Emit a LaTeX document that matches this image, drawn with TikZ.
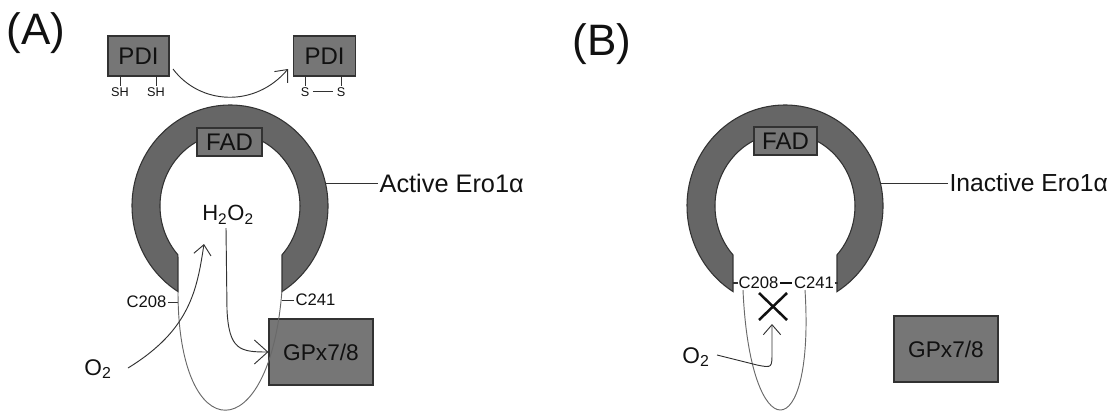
\documentclass[tikz,border=0pt]{standalone}
\usepackage{fontspec}
\setmainfont{Liberation Sans}
\usetikzlibrary{arrows.meta,calc}
\definecolor{ringfill}{RGB}{102,102,102}
\definecolor{boxfill}{RGB}{118,118,118}
\definecolor{edgecol}{RGB}{50,50,50}
\definecolor{loopcol}{RGB}{105,105,105}
\definecolor{txtcol}{RGB}{17,17,17}
\newcommand{\fsz}[1]{\fontsize{#1}{#1}\selectfont}
\tikzset{
  ringshape/.style={draw=edgecol, fill=ringfill, line width=0.8pt},
  graybox/.style={draw=edgecol, fill=boxfill, line width=0.9pt, inner sep=0pt, text=txtcol},
  txt/.style={inner sep=1pt, text=txtcol},
  thinline/.style={draw=edgecol, line width=0.7pt},
  loopline/.style={draw=loopcol, line width=0.7pt},
  arr/.style={draw=edgecol, line width=0.7pt, -{Straight Barb[length=7.5pt,width=13pt,line width=0.7pt]}},
  bigarr/.style={draw=edgecol, line width=0.7pt, -{Straight Barb[length=10pt,width=18pt,line width=0.7pt]}},
}
\begin{document}
\begin{tikzpicture}[x=0.75pt,y=-0.75pt]
\useasboundingbox (0,0) rectangle (1112,414);

% ---------------- Panel A ----------------
\node[txt,font=\fsz{33pt}] (labA) at (36,33) {(A)};

\node[graybox,minimum width=45.75pt,minimum height=30pt,font=\fsz{18pt}] (pdi1) at (138.5,56) {PDI};
\node[graybox,minimum width=47pt,minimum height=30pt,font=\fsz{18pt}] (pdi2) at (324.5,56) {PDI};
\node[txt,font=\fsz{9.5pt}] (sh1) at (120,92) {SH};
\node[txt,font=\fsz{9.5pt}] (sh2) at (156,92) {SH};
\node[txt,font=\fsz{9.5pt}] (s1) at (305,92) {S};
\node[txt,font=\fsz{9.5pt}] (s2) at (341,92) {S};
\draw[thinline] (sh1.north) -- (sh1.north |- pdi1.south);
\draw[thinline] (sh2.north) -- (sh2.north |- pdi1.south);
\draw[thinline] (s1.north) -- (s1.north |- pdi2.south);
\draw[thinline] (s2.north) -- (s2.north |- pdi2.south);
\draw[thinline] ($(s1.east)+(2,-1)$) -- ($(s2.west)+(-2,-1)$);
\coordinate (pdiout) at (173,69);
\coordinate (pdiin) at (288,69);
\draw[arr] (pdiout) .. controls (200,105) and (255,108) .. (pdiin);

% ring A
\draw[ringshape] (178,291.6) arc[start angle=122.05, end angle=417.95, x radius=98, y radius=101]
  -- (282,254.85) arc[start angle=402, end angle=138, x radius=70, y radius=73] -- cycle;
\node[graybox,minimum width=48.75pt,minimum height=21pt,font=\fsz{18pt}] (fadA) at (229.5,142) {FAD};
\coordinate (ringAr) at (325.4,183);
\node[txt,font=\fsz{19pt},anchor=west] (activeA) at (378,183) {Active Ero1α};
\draw[thinline] (ringAr) -- (activeA.west);

\node[txt,font=\fsz{16.5pt}] (h2o2) at (228,215) {H\textsubscript{2}O\textsubscript{2}};

\coordinate (cutAL) at (178,291.6);
\coordinate (cutAR) at (282,290);
\node[txt,font=\fsz{12.5pt},anchor=east] (c208A) at (168,302) {C208};
\node[txt,font=\fsz{12.5pt},anchor=west] (c241A) at (294,300) {C241};
\draw[thinline] (c208A.east) -- (c208A.east -| cutAL);
\draw[thinline] (c241A.west) -- (c241A.west -| cutAR);

\node[graybox,minimum width=78pt,minimum height=49.5pt,font=\fsz{17pt}] (gpxA) at (321,352) {GPx7/8};
\node[txt,font=\fsz{17pt}] (o2A) at (98,369) {O\textsubscript{2}};

\draw[loopline] (cutAL) .. controls (178,450) and (270,450) .. (cutAR);
\coordinate (o2Astart) at (128,368);
\coordinate (o2Aend) at (204,244);
\draw[arr] (o2Astart) .. controls (190,330) and (197,290) .. (o2Aend);
\coordinate (h2o2start) at (226,228);
\draw[bigarr] (h2o2start) -- (227,310) .. controls (229,350) and (240,352) .. (gpxA.west);

% ---------------- Panel B ----------------
\node[txt,font=\fsz{33pt}] (labB) at (602,44) {(B)};

\draw[ringshape] (733,291.6) arc[start angle=122.05, end angle=417.95, x radius=98, y radius=101]
  -- (837,254.85) arc[start angle=402, end angle=138, x radius=70, y radius=73] -- cycle;
\node[graybox,minimum width=47.25pt,minimum height=21pt,font=\fsz{18pt}] (fadB) at (785.5,141) {FAD};
\coordinate (ringBr) at (880.4,183);
\node[txt,font=\fsz{18.5pt},anchor=west] (inactiveB) at (948,183) {Inactive Ero1α};
\draw[thinline] (ringBr) -- (inactiveB.west);

\coordinate (cutBL) at (733,283);
\coordinate (cutBR) at (838,283);
\node[txt,font=\fsz{12.5pt},inner sep=0.5pt] (c208B) at (758.5,283) {C208};
\node[txt,font=\fsz{12.5pt},inner sep=0.5pt] (c241B) at (814,283) {C241};
\draw[draw=edgecol,line width=1.3pt] (cutBL) -- (c208B.west);
\draw[draw=edgecol,line width=1.3pt] (c241B.east) -- (cutBR);
\draw[draw=txtcol,line width=1.8pt] ($(c208B.east)+(1,0)$) -- ($(c241B.west)+(-1,0)$);

\node[graybox,minimum width=78pt,minimum height=49.5pt,font=\fsz{17pt}] (gpxB) at (946,349) {GPx7/8};
\node[txt,font=\fsz{17pt}] (o2B) at (696,357) {O\textsubscript{2}};

\coordinate (loopBL) at (743,290);
\coordinate (loopBR) at (805,290);
\draw[loopline] (loopBL) .. controls (750,450) and (815,450) .. (loopBR);

\coordinate (xc) at (773,306.5);
\draw[draw=txtcol,line width=1.9pt] ($(xc)+(-14,-13.5)$) -- ($(xc)+(14,13.5)$);
\draw[draw=txtcol,line width=1.9pt] ($(xc)+(-14,13.5)$) -- ($(xc)+(14,-13.5)$);

\coordinate (o2Bstart) at (717,355);
\coordinate (o2Bend) at (772,324);
\draw[arr] (o2Bstart) -- (757,365) .. controls (772,368) .. (772,352) -- (o2Bend);
\end{tikzpicture}
\end{document}
